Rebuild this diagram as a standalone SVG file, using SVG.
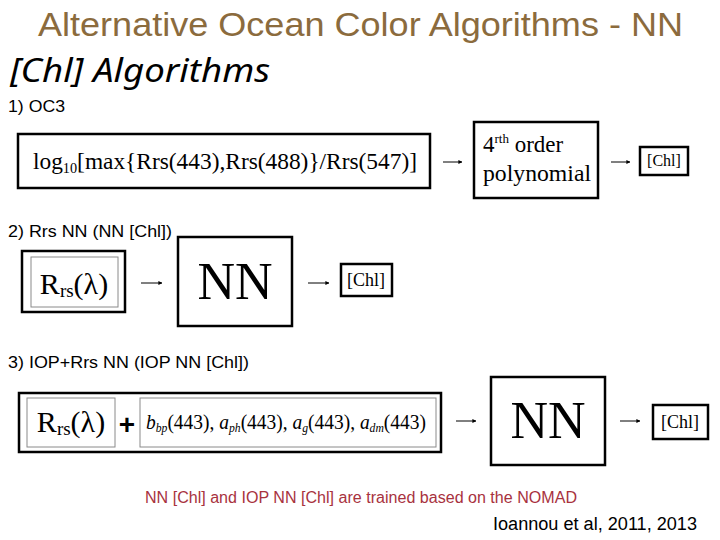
<svg xmlns="http://www.w3.org/2000/svg" width="720" height="540" viewBox="0 0 720 540">
<defs>
<style>
.sans{font-family:"Liberation Sans",Arial,sans-serif;fill:#000}
.serif{font-family:"Liberation Serif","Times New Roman",serif;fill:#000}
.box{fill:#fff;stroke:#000;stroke-width:2.5}
.inner{fill:#fff;stroke:#8a8a8a;stroke-width:1}
.arrow{stroke:#000;stroke-width:1;fill:none;marker-end:url(#ah)}
</style>
<marker id="ah" viewBox="0 0 10 10" refX="9" refY="5" markerWidth="4" markerHeight="4" orient="auto" markerUnits="userSpaceOnUse"><path d="M0,0 L10,5 L0,10 z" fill="#000"/></marker>
</defs>
<rect width="720" height="540" fill="#fff"/>
<text x="38" y="36" class="sans" style="fill:#8b6b3d" font-size="34" textLength="645" lengthAdjust="spacingAndGlyphs">Alternative Ocean Color Algorithms - NN</text>
<text x="10" y="82" font-family="'Noto Sans','Open Sans',sans-serif" font-style="italic" font-size="32" textLength="260" lengthAdjust="spacingAndGlyphs">[Chl] Algorithms</text>
<text x="8" y="112" class="sans" font-size="16" textLength="57" lengthAdjust="spacingAndGlyphs">1) OC3</text>
<text x="8" y="237" class="sans" font-size="17" textLength="164" lengthAdjust="spacingAndGlyphs">2) Rrs NN (NN [Chl])</text>
<text x="8" y="368" class="sans" font-size="17" textLength="241" lengthAdjust="spacingAndGlyphs">3) IOP+Rrs NN (IOP NN [Chl])</text>

<g id="connectors">
<line class="arrow" x1="443" y1="162" x2="462" y2="162"/>
<line class="arrow" x1="611" y1="162" x2="630" y2="162"/>
<line class="arrow" x1="141" y1="283" x2="162" y2="283"/>
<line class="arrow" x1="308" y1="283" x2="329" y2="283"/>
<line class="arrow" x1="456" y1="421" x2="476" y2="421"/>
<line class="arrow" x1="620" y1="421" x2="640" y2="421"/>
</g>

<g id="oc3-ratio">
<rect class="box" x="18" y="134" width="412" height="54"/>
<text x="33" y="169" class="serif" font-size="23" textLength="384" lengthAdjust="spacingAndGlyphs">log<tspan font-size="14" dy="4">10</tspan><tspan dy="-4">[max{Rrs(443),Rrs(488)}/Rrs(547)]</tspan></text>
</g>
<g id="oc3-poly">
<rect class="box" x="474" y="122" width="124" height="76"/>
<text x="483" y="152" class="serif" font-size="23">4<tspan font-size="13" dy="-9">rth</tspan><tspan dy="9"> order</tspan></text>
<text x="483" y="181" class="serif" font-size="23" textLength="108" lengthAdjust="spacingAndGlyphs">polynomial</text>
</g>
<g id="oc3-chl">
<rect class="box" x="640" y="147" width="48" height="28"/>
<text x="664" y="166" text-anchor="middle" class="serif" font-size="16">[Chl]</text>
</g>

<g id="nn-rrs">
<rect class="box" x="22" y="251" width="103" height="61"/>
<rect class="inner" x="31" y="257" width="87" height="50"/>
<text x="74" y="294" text-anchor="middle" class="serif" font-size="30">R<tspan font-size="19" dy="3">rs</tspan><tspan dy="-3">(λ)</tspan></text>
</g>
<g id="nn-net">
<rect class="box" x="178" y="237" width="114" height="89"/>
<text x="235" y="299" text-anchor="middle" class="serif" font-size="52">NN</text>
</g>
<g id="nn-chl">
<rect class="box" x="341" y="264" width="51" height="32"/>
<text x="366" y="286" text-anchor="middle" class="serif" font-size="18">[Chl]</text>
</g>

<g id="iop-inputs">
<rect class="box" x="19" y="393" width="422" height="59"/>
<rect class="inner" x="27" y="398" width="88" height="49"/>
<text x="71" y="432" text-anchor="middle" class="serif" font-size="30">R<tspan font-size="19" dy="3">rs</tspan><tspan dy="-3">(λ)</tspan></text>
<text x="127" y="434" text-anchor="middle" class="sans" font-size="28" font-weight="bold">+</text>
<rect class="inner" x="140" y="398" width="296" height="49"/>
<text x="146" y="429" class="serif" font-size="20" textLength="280" lengthAdjust="spacingAndGlyphs"><tspan font-style="italic">b</tspan><tspan font-style="italic" font-size="12" dy="3">bp</tspan><tspan dy="-3">(443), </tspan><tspan font-style="italic">a</tspan><tspan font-style="italic" font-size="12" dy="3">ph</tspan><tspan dy="-3">(443), </tspan><tspan font-style="italic">a</tspan><tspan font-style="italic" font-size="12" dy="3">g</tspan><tspan dy="-3">(443), </tspan><tspan font-style="italic">a</tspan><tspan font-style="italic" font-size="12" dy="3">dm</tspan><tspan dy="-3">(443)</tspan></text>
</g>
<g id="iop-net">
<rect class="box" x="491" y="377" width="114" height="88"/>
<text x="548" y="438" text-anchor="middle" class="serif" font-size="52">NN</text>
</g>
<g id="iop-chl">
<rect class="box" x="653" y="405" width="55" height="34"/>
<text x="680" y="428" text-anchor="middle" class="serif" font-size="18">[Chl]</text>
</g>

<text x="145" y="503" class="sans" style="fill:#a8323e" font-size="16" textLength="432" lengthAdjust="spacingAndGlyphs">NN [Chl] and IOP NN [Chl] are trained based on the NOMAD</text>
<text x="493" y="530" class="sans" font-size="18" textLength="204" lengthAdjust="spacingAndGlyphs">Ioannou et al, 2011, 2013</text>
</svg>
